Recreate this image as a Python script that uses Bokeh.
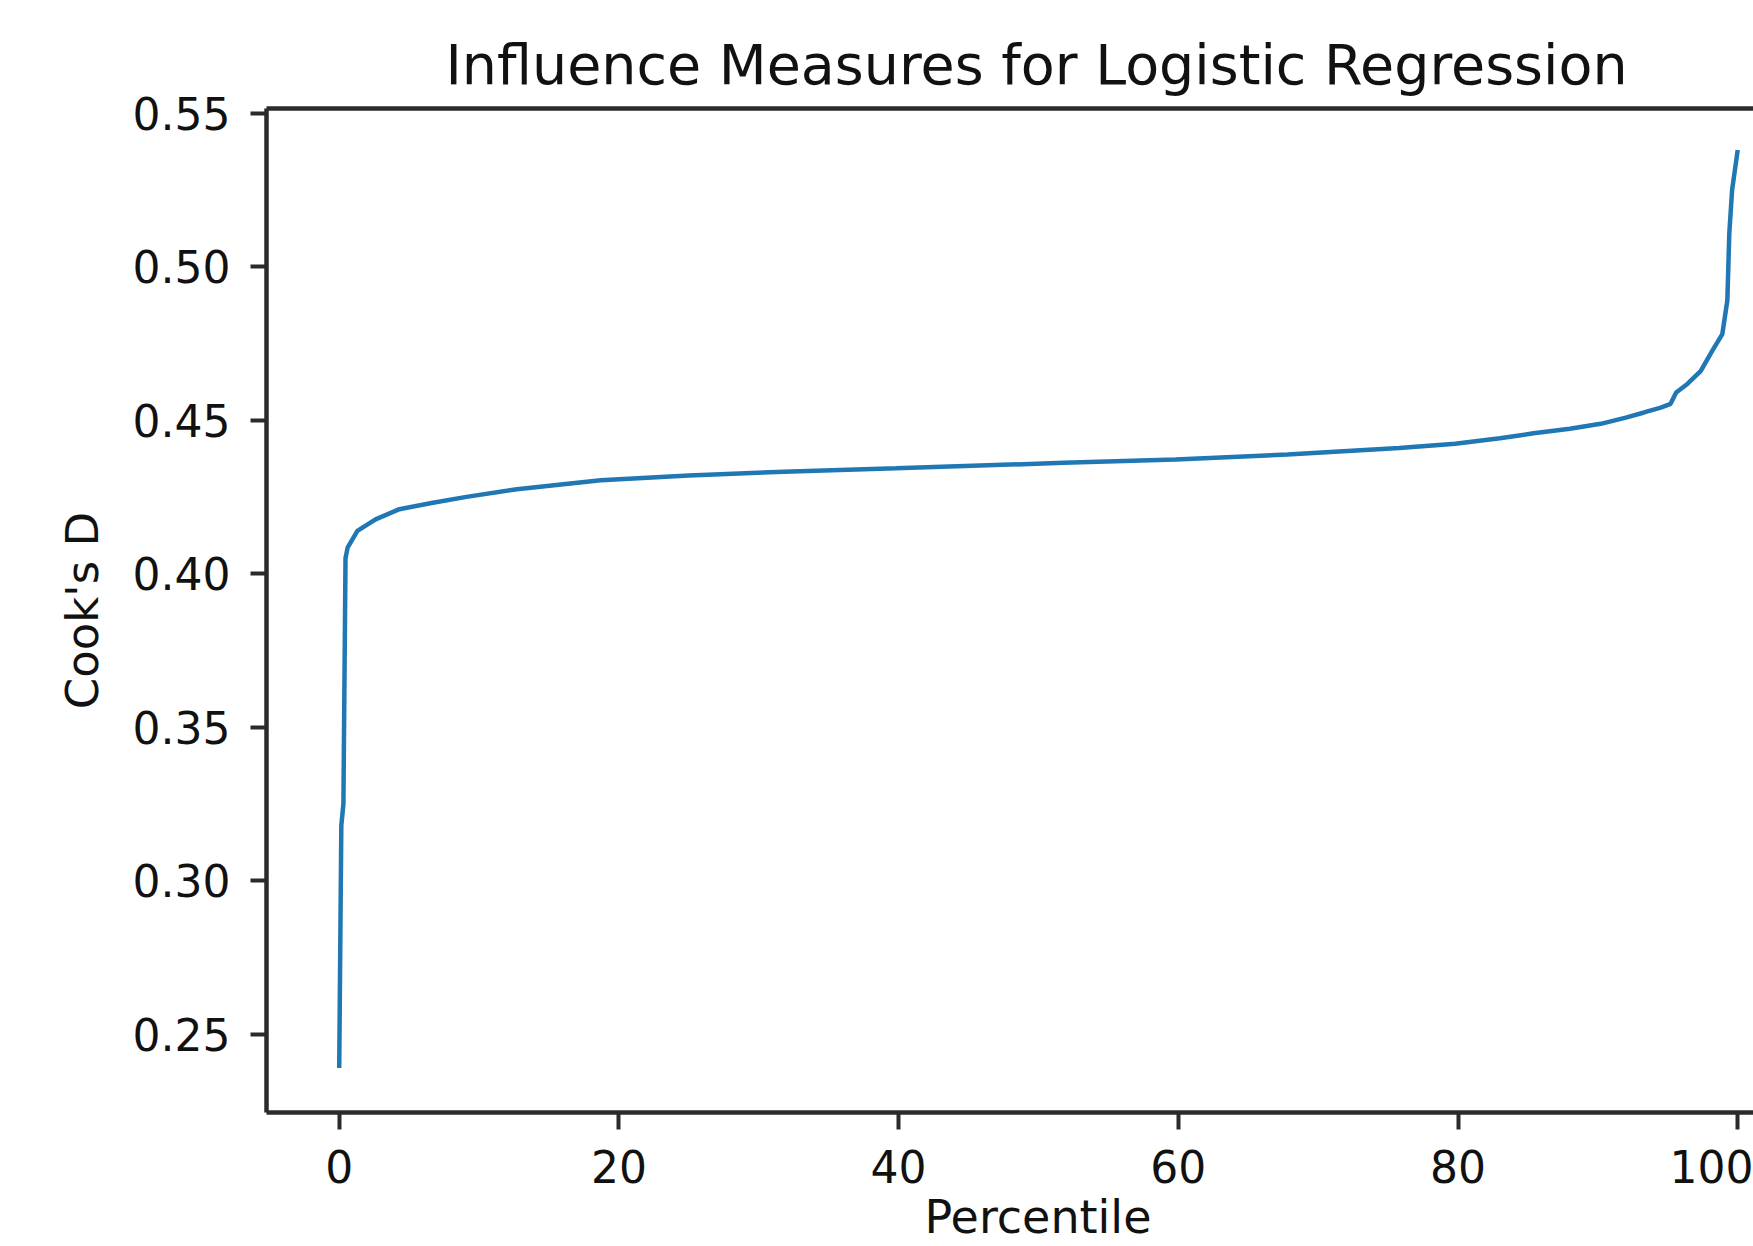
from bokeh.plotting import figure
from bokeh.models import LinearAxis, FixedTicker, Title, Range1d, PrintfTickFormatter
from bokeh.embed import file_html
from bokeh.resources import INLINE

# ---- data ----
percentile = [0, 0.15, 0.3, 0.45, 0.6, 1.3, 2.6, 4.3, 6.7, 9.1, 12.7, 18.7, 25.0,
              31.8, 39.8, 51.8, 59.8, 67.8, 75.8, 79.8, 83.0, 85.4, 88.0, 90.2,
              92.0, 93.3, 94.5, 95.2, 95.6, 96.4, 97.35, 98.2, 98.9, 99.26, 99.4,
              99.6, 100]
cooks_d = [0.239, 0.318, 0.325, 0.405, 0.4085, 0.4139, 0.4177, 0.421, 0.4231, 0.425,
           0.4275, 0.4304, 0.4320, 0.4332, 0.4343, 0.4361, 0.4372, 0.4388, 0.4409,
           0.4423, 0.4441, 0.4457, 0.4472, 0.4488, 0.4508, 0.4525, 0.4541, 0.4553,
           0.4590, 0.4618, 0.4660, 0.4727, 0.4780, 0.4890, 0.5109, 0.5249, 0.538]

x_ticks = [0, 20, 40, 60, 80, 100]
y_ticks = [0.25, 0.30, 0.35, 0.40, 0.45, 0.50, 0.55]

title_text = "Influence Measures for Logistic Regression"
x_label = "Percentile"
y_label = "Cook's D"

FONT = "DejaVu Sans"
SPINE = "#2b2b2b"
LINE_COLOR = "#1f77b4"

p = figure(width=1753, height=1246, output_backend="svg", toolbar_location=None,
           x_range=Range1d(-5.2, 101.13), y_range=Range1d(0.2245, 0.5515),
           x_axis_type=None, y_axis_type=None, title=None,
           min_border_left=266, min_border_right=0, min_border_top=108,
           min_border_bottom=0)
p.outline_line_color = None
p.xgrid.visible = False
p.ygrid.visible = False
p.background_fill_color = "white"
p.border_fill_color = "white"

p.line(percentile, cooks_d, line_color=LINE_COLOR, line_width=4.5)

# bottom axis
xaxis = LinearAxis(ticker=FixedTicker(ticks=x_ticks))
# left axis
yaxis = LinearAxis(ticker=FixedTicker(ticks=y_ticks),
                   formatter=PrintfTickFormatter(format="%.2f"),
                   axis_label=y_label)
for ax, tick_len, standoff in ((xaxis, 17, 20), (yaxis, 16, 20)):
    ax.axis_line_color = SPINE
    ax.axis_line_width = 4.5
    ax.major_tick_line_color = SPINE
    ax.major_tick_line_width = 4
    ax.major_tick_out = tick_len
    ax.major_tick_in = 0
    ax.minor_tick_line_color = None
    ax.major_label_text_font = FONT
    ax.major_label_text_font_size = "44px"
    ax.major_label_text_color = "#111111"
    ax.major_label_standoff = standoff
yaxis.axis_label_text_font = FONT
yaxis.axis_label_text_font_size = "45px"
yaxis.axis_label_text_font_style = "normal"
yaxis.axis_label_text_color = "#111111"
yaxis.axis_label_standoff = 21

p.add_layout(xaxis, "below")
p.add_layout(yaxis, "left")

# top spine (no ticks)
top_axis = LinearAxis(ticker=FixedTicker(ticks=[]), major_tick_out=0, major_tick_in=0,
                      minor_tick_line_color=None, major_label_text_font_size="0px",
                      major_label_standoff=0, axis_line_color=SPINE, axis_line_width=4.5)
p.add_layout(top_axis, "above")

p.add_layout(Title(text=title_text, align="left", offset=179, text_font=FONT,
                   text_font_size="55.5px", text_font_style="normal",
                   text_color="#111111", standoff=24), "above")

p.add_layout(Title(text=x_label, align="left", offset=658, text_font=FONT,
                   text_font_size="46px", text_font_style="normal",
                   text_color="#111111", standoff=5), "below")

open("out.html", "w").write(file_html(p, INLINE))
